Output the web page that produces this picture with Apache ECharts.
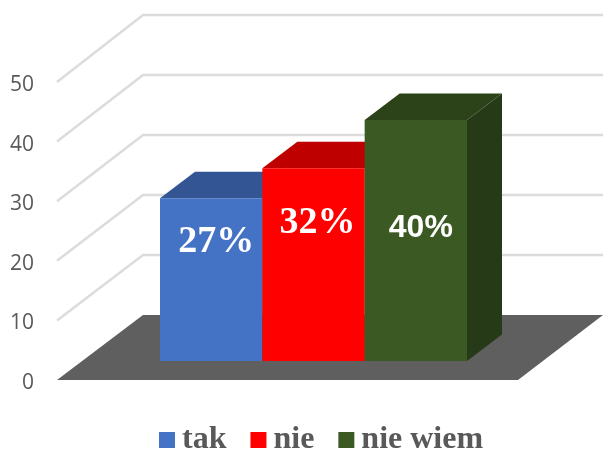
<!DOCTYPE html>
<html><head><meta charset="utf-8">
<style>html,body{margin:0;padding:0;background:#fff}#c{width:603px;height:450px}</style>
<script src="https://cdn.jsdelivr.net/npm/echarts@6/dist/echarts.min.js"></script>
</head><body><div id="c"></div>
<script>
var categories = ['tak', 'nie', 'nie wiem'];
var values = [27, 32, 40];
var valueLabels = ['27%', '32%', '40%'];
var axisTicks = [10, 20, 30, 40, 50];
var faceColors = ['#4472c4', '#ff0000', '#3b5a23'];
var topColors = ['#335593', '#bf0000', '#2c431a'];
var sideColors = ['#264478', '#990000', '#273a18'];

var labelStyles = [
  {font: 'bold 38px "Liberation Serif"', dx: 5, dy: -37},
  {font: 'bold 38px "Liberation Serif"', dx: 4, dy: -41},
  {font: 'bold 32px "Liberation Sans"', dx: 5, dy: -12}
];
var DX = 35, DY = 26.5, WALL_DX = 86;

function wallDy(v) { return 65 + v * 0.04; }

function renderWall(params, api) {
  var v = api.value(1);
  var p = api.coord([0, v]);
  var cs = params.coordSys;
  var dy = wallDy(v);
  return {type: 'polyline', silent: true, shape: {points: [p, [p[0] + WALL_DX, p[1] - dy], [cs.x + cs.width, p[1] - dy]]},
    style: {stroke: '#dcdcdc', lineWidth: 2.5, fill: null}};
}
function renderFloor(params, api) {
  var p = api.coord([0, 0]);
  var cs = params.coordSys;
  var dy = wallDy(0);
  var frontW = 461;
  return {type: 'polygon', silent: true, shape: {points: [p, [p[0] + WALL_DX, p[1] - dy], [cs.x + cs.width, p[1] - dy], [p[0] + frontW, p[1]]]},
    style: {fill: '#5f5f5f'}};
}
function renderBar(i) {
  return function (params, api) {
    var top = api.coord([api.value(0), api.value(1)]);
    var base = api.coord([api.value(0), 0]);
    var w = api.size([1, 0])[0];
    var x0 = top[0] - w / 2, x1 = top[0] + w / 2, y0 = top[1], y1 = base[1];
    var st = labelStyles[i];
    return {type: 'group', silent: true, children: [
      {type: 'polygon', shape: {points: [[x1, y0], [x1 + DX, y0 - DY], [x1 + DX, y1 - DY], [x1, y1]]}, style: {fill: sideColors[i]}},
      {type: 'polygon', shape: {points: [[x0, y0], [x0 + DX, y0 - DY], [x1 + DX, y0 - DY], [x1, y0]]}, style: {fill: topColors[i]}},
      {type: 'rect', shape: {x: x0, y: y0, width: w, height: y1 - y0}, style: {fill: faceColors[i]}},
      {type: 'text', style: {text: valueLabels[i], x: top[0] + st.dx, y: (y0 + y1) / 2 + st.dy, align: 'center', verticalAlign: 'middle', font: st.font, fill: '#fff'}}
    ]};
  };
}

var series = [
  {type: 'custom', name: 'floor', xAxisIndex: 0, yAxisIndex: 0, z: 1, renderItem: renderFloor, data: [[0, 0]], clip: false},
  {type: 'custom', name: 'walls', xAxisIndex: 0, yAxisIndex: 0, z: 1, renderItem: renderWall,
    data: axisTicks.map(function (v) { return [0, v]; }), clip: false}
];
categories.forEach(function (c, i) {
  series.push({type: 'custom', name: c, xAxisIndex: 1, yAxisIndex: 1, z: 2 + i, renderItem: renderBar(i),
    itemStyle: {color: faceColors[i]}, data: [[i, values[i]]], clip: false,
    encode: {x: 0, y: 1}});
});

var chart = echarts.init(document.getElementById('c'), null, {renderer: 'canvas'});
chart.setOption({
  animation: false,
  backgroundColor: '#fff',
  grid: [
    {left: 57, top: 82, width: 546, height: 298},
    {left: 160, top: 120, width: 307, height: 241},
    {left: 57, top: 85, width: 546, height: 298}
  ],
  xAxis: [
    {gridIndex: 0, type: 'value', min: 0, max: 1, show: false},
    {gridIndex: 1, type: 'category', data: categories, show: false},
    {gridIndex: 2, type: 'value', min: 0, max: 1, show: false}
  ],
  yAxis: [
    {gridIndex: 0, type: 'value', min: 0, max: 50, interval: 10, show: false},
    {gridIndex: 1, type: 'value', min: 0, max: 40, show: false},
    {gridIndex: 2, type: 'value', min: 0, max: 50, interval: 10,
      axisLine: {show: false}, axisTick: {show: false}, splitLine: {show: false},
      axisLabel: {color: '#595959', fontFamily: 'Open Sans', fontSize: 21, margin: 23}}
  ],
  legend: {
    data: categories, left: 159, top: 424, padding: 0, icon: 'rect', itemWidth: 16, itemHeight: 16, itemGap: 24,
    selectedMode: false,
    textStyle: {color: '#595959', fontFamily: 'Liberation Serif', fontWeight: 'bold', fontSize: 32, padding: [5, 0, 0, 2]}
  },
  series: series
});
</script></body></html>
